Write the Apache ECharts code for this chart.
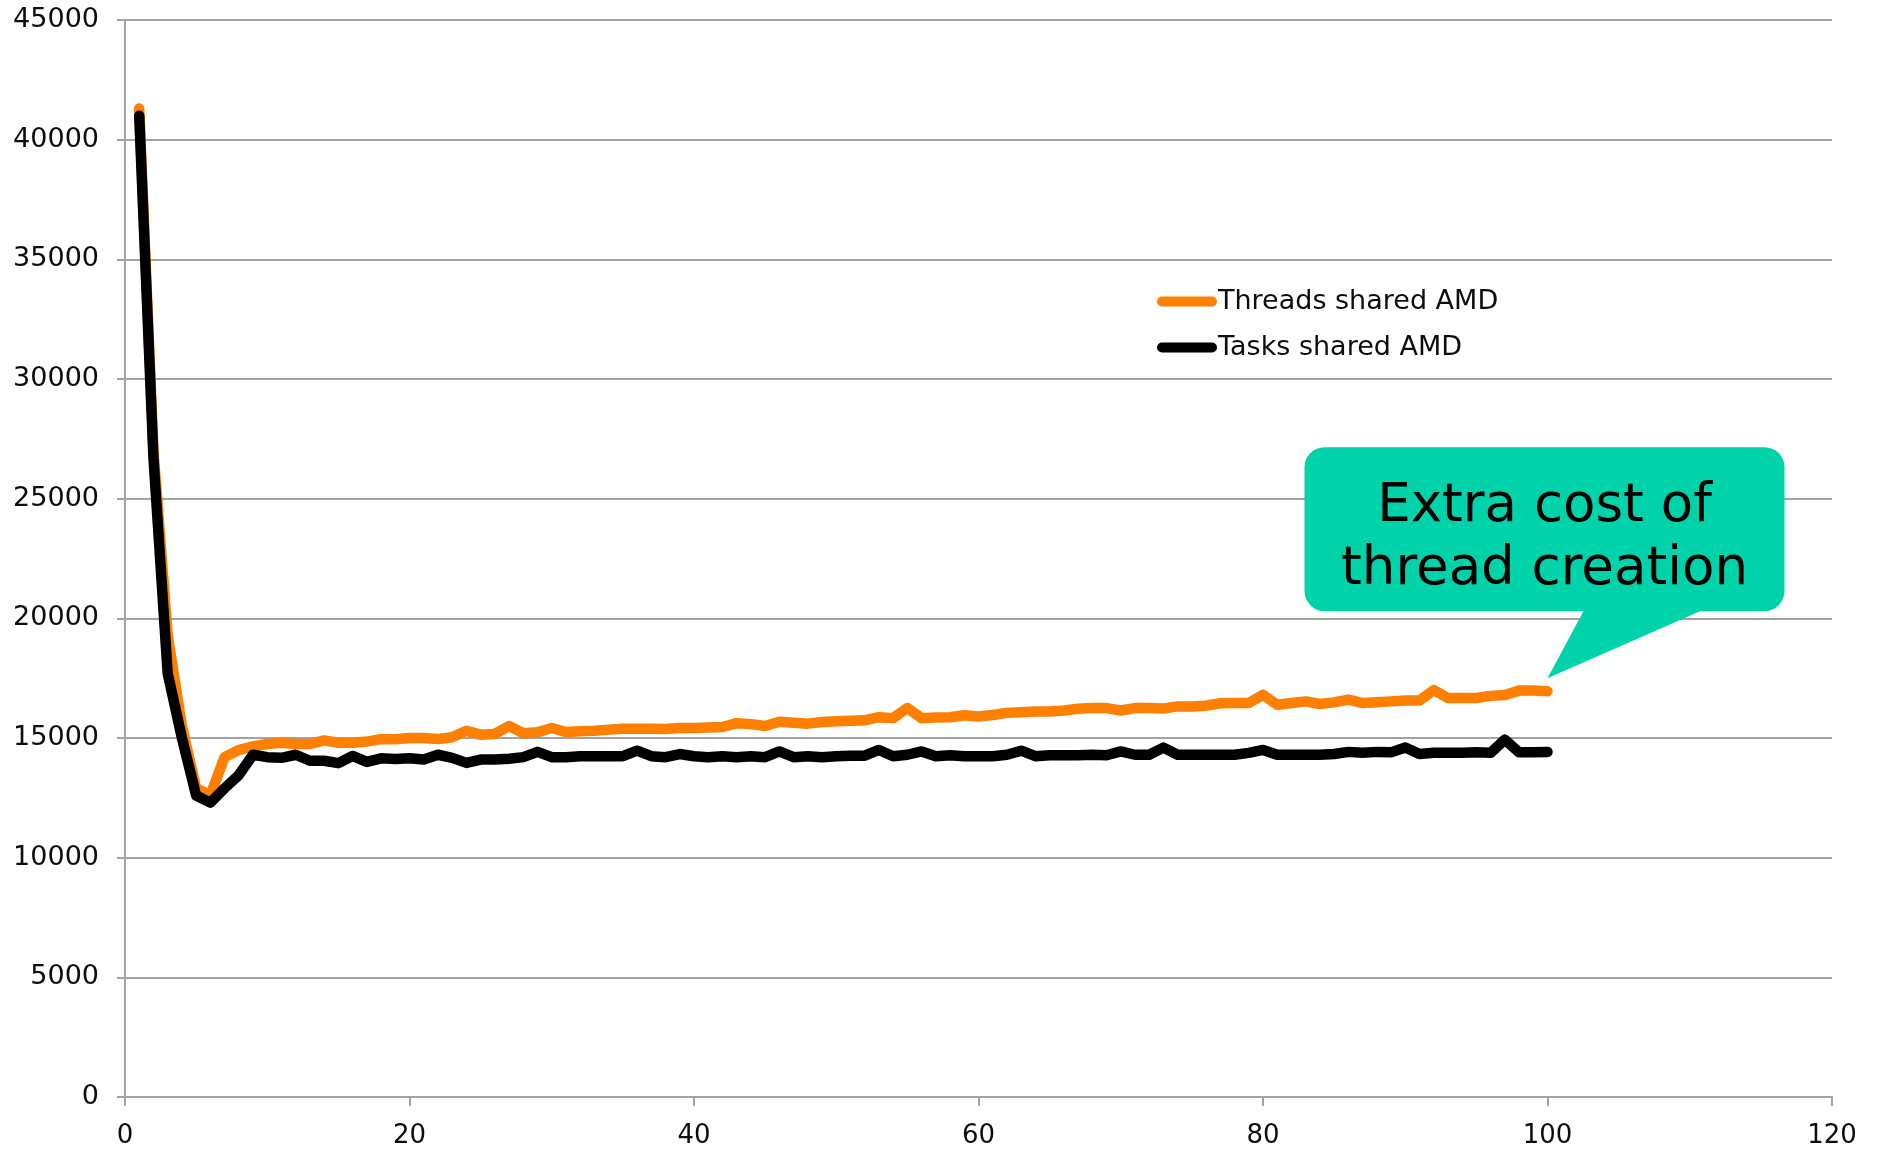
<!DOCTYPE html>
<html>
<head>
<meta charset="utf-8">
<title>Threads vs Tasks (shared AMD)</title>
<script src="https://cdn.jsdelivr.net/npm/echarts@6/dist/echarts.min.js"></script>
<style>
  html, body { margin: 0; padding: 0; background: #ffffff; }
  #chart { width: 1878px; height: 1149px; }
</style>
</head>
<body>
<div id="chart"></div>
<script>
// Number of threads / tasks per run
const workers = [
  1, 2, 3, 4, 5, 6, 7, 8, 9, 10,
  11, 12, 13, 14, 15, 16, 17, 18, 19, 20,
  21, 22, 23, 24, 25, 26, 27, 28, 29, 30,
  31, 32, 33, 34, 35, 36, 37, 38, 39, 40,
  41, 42, 43, 44, 45, 46, 47, 48, 49, 50,
  51, 52, 53, 54, 55, 56, 57, 58, 59, 60,
  61, 62, 63, 64, 65, 66, 67, 68, 69, 70,
  71, 72, 73, 74, 75, 76, 77, 78, 79, 80,
  81, 82, 83, 84, 85, 86, 87, 88, 89, 90,
  91, 92, 93, 94, 95, 96, 97, 98, 99, 100
];

// Run time with one OS thread per work item
const threadsShared = [
  41300, 27000, 19300, 15500, 12900, 12600, 14200, 14500, 14650, 14750,
  14800, 14750, 14750, 14900, 14800, 14800, 14850, 14950, 14950, 15000,
  15000, 14960, 15030, 15300, 15140, 15170, 15500, 15200, 15240, 15420,
  15250, 15280, 15300, 15350, 15390, 15390, 15390, 15380, 15420, 15420,
  15440, 15460, 15620, 15580, 15500, 15680, 15640, 15600, 15670, 15700,
  15720, 15740, 15870, 15830, 16250, 15830, 15860, 15870, 15950, 15900,
  15960, 16050, 16080, 16110, 16110, 16150, 16220, 16250, 16250, 16150,
  16250, 16250, 16230, 16320, 16320, 16350, 16450, 16460, 16460, 16800,
  16390, 16460, 16530, 16420, 16490, 16600, 16460, 16490, 16530, 16570,
  16570, 17000, 16670, 16670, 16670, 16760, 16800, 16980, 16980, 16950
];

// Run time with tasks on a shared pool
const tasksShared = [
  41000, 26700, 17700, 15000, 12600, 12300, 12900, 13450, 14300, 14200,
  14170, 14300, 14050, 14050, 13950, 14250, 14000, 14150, 14120, 14150,
  14100, 14300, 14170, 13960, 14100, 14100, 14130, 14200, 14420, 14200,
  14200, 14240, 14240, 14240, 14240, 14470, 14240, 14200, 14330, 14240,
  14200, 14240, 14200, 14240, 14200, 14440, 14200, 14240, 14200, 14240,
  14260, 14260, 14500, 14240, 14300, 14440, 14240, 14280, 14240, 14240,
  14240, 14300, 14470, 14240, 14280, 14280, 14280, 14300, 14280, 14440,
  14300, 14300, 14600, 14300, 14300, 14300, 14300, 14300, 14380, 14500,
  14300, 14300, 14300, 14300, 14330, 14420, 14380, 14420, 14400, 14600,
  14330, 14380, 14380, 14380, 14400, 14380, 14930, 14400, 14400, 14420
];

const seriesNames = ['Threads shared AMD', 'Tasks shared AMD'];
const calloutLines = ['Extra cost of', 'thread creation'];
// Point the callout arrow at (workers, time)
const calloutAnchor = [100, 17500];

const FONT = 'DejaVu Sans';
const GRID_GRAY = '#a3a3a3';
const TEXT = '#0d0d0d';

function pairs(xs, ys) {
  return xs.map((x, i) => [x, ys[i]]);
}

const chart = echarts.init(document.getElementById('chart'), null, { renderer: 'canvas' });

chart.setOption({
  animation: false,
  backgroundColor: '#ffffff',
  textStyle: { fontFamily: FONT },
  grid: { left: 125, right: 46, top: 20, bottom: 48 },
  legend: {
    orient: 'vertical',
    left: 1157,
    top: 285,
    padding: 0,
    itemWidth: 60,
    itemHeight: 11,
    itemGap: 13,
    icon: 'path://M5,0 L55,0 A5,5 0 0 1 55,10 L5,10 A5,5 0 0 1 5,0 Z',
    textStyle: { fontFamily: FONT, fontSize: 27, color: TEXT, lineHeight: 30, padding: [3, 0, 0, -4] },
    data: seriesNames
  },
  xAxis: {
    type: 'value',
    min: 0,
    max: 120,
    interval: 20,
    axisLine: { show: true, lineStyle: { color: GRID_GRAY, width: 2 } },
    axisTick: { show: true, length: 9, lineStyle: { color: GRID_GRAY, width: 2 } },
    splitLine: { show: false },
    axisLabel: { fontFamily: FONT, fontSize: 26, color: TEXT, margin: 26 }
  },
  yAxis: {
    type: 'value',
    min: 0,
    max: 45000,
    interval: 5000,
    axisLine: { show: true, lineStyle: { color: GRID_GRAY, width: 2 } },
    axisTick: { show: true, length: 8, lineStyle: { color: GRID_GRAY, width: 2 } },
    splitLine: { show: true, lineStyle: { color: GRID_GRAY, width: 2 } },
    axisLabel: {
      fontFamily: FONT,
      fontSize: 27,
      color: TEXT,
      margin: 26,
      formatter: (v) => String(v)
    }
  },
  series: [
    {
      name: seriesNames[0],
      type: 'line',
      data: pairs(workers, threadsShared),
      showSymbol: false,
      symbol: 'none',
      color: '#ff7f00',
      lineStyle: { color: '#ff7f00', width: 10.5, cap: 'round', join: 'round' }
    },
    {
      name: seriesNames[1],
      type: 'line',
      data: pairs(workers, tasksShared),
      showSymbol: false,
      symbol: 'none',
      color: '#000000',
      lineStyle: { color: '#000000', width: 10.5, cap: 'round', join: 'round' }
    }
  ]
});

// Speech-bubble annotation whose arrow points at the anchor value
const tip = chart.convertToPixel({ xAxisIndex: 0, yAxisIndex: 0 }, calloutAnchor);
const boxW = 480, boxH = 164;
const boxX = tip[0] - 243;
const boxY = tip[1] - 231;
const boxBottom = boxY + boxH;
const BUBBLE = '#00d2aa';

chart.setOption({
  graphic: [
    {
      type: 'rect',
      z: 100,
      shape: { x: boxX, y: boxY, width: boxW, height: boxH, r: 20 },
      style: { fill: BUBBLE }
    },
    {
      type: 'polygon',
      z: 100,
      shape: { points: [[tip[0] + 37, boxBottom - 2], [tip[0] + 157, boxBottom - 2], [tip[0], tip[1]]] },
      style: { fill: BUBBLE }
    },
    {
      type: 'text',
      z: 101,
      x: boxX + boxW / 2,
      y: tip[1] - 171,
      style: {
        text: calloutLines[0],
        font: '53px "DejaVu Sans"',
        fill: '#000000',
        align: 'center',
        verticalAlign: 'middle'
      }
    },
    {
      type: 'text',
      z: 101,
      x: boxX + boxW / 2,
      y: tip[1] - 108,
      style: {
        text: calloutLines[1],
        font: '53px "DejaVu Sans"',
        fill: '#000000',
        align: 'center',
        verticalAlign: 'middle'
      }
    }
  ]
});
</script>
</body>
</html>
